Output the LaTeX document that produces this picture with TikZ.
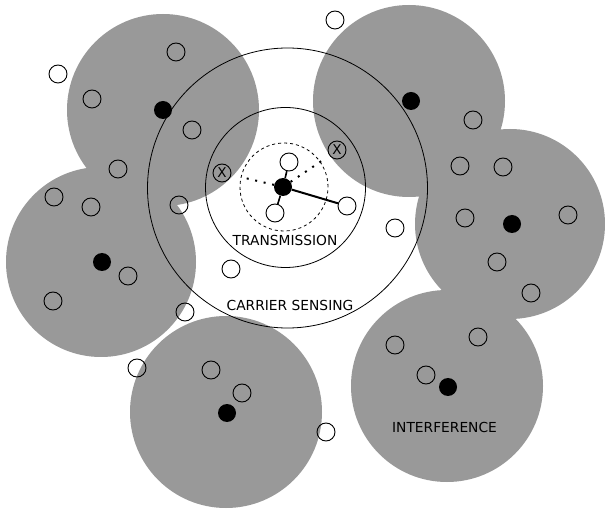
\documentclass[tikz,border=0pt]{standalone}
\usepackage{fontspec}
\setmainfont{DejaVu Sans}
\definecolor{zonegrey}{RGB}{153,153,153}
\begin{document}
\begin{tikzpicture}[x=1pt,y=-1pt,
  zone/.style={fill=zonegrey,draw=none},
  rangeline/.style={line width=0.8pt},
  dashrange/.style={line width=0.8pt,dash pattern=on 3pt off 3pt},
  onode/.style={circle,draw,line width=0.9pt,minimum size=18pt,inner sep=0pt},
  xnode/.style={onode,font=\fontsize{13.5}{13.5}\selectfont},
  bnode/.style={circle,fill=black,minimum size=18pt,inner sep=0pt},
  link/.style={line width=1.6pt},
  strong/.style={line width=2pt},
  dotlink/.style={line width=2pt,dash pattern=on 2pt off 6.7pt},
  label/.style={font=\fontsize{13.8}{16}\selectfont,inner sep=0pt}
]
\useasboundingbox (0,0) rectangle (605,510);
\fill[white] (0,0) rectangle (605,510);
% interference zones
\fill[zone] (163,110) circle[radius=96pt];
\fill[zone] (101,262) circle[radius=95pt];
\fill[zone] (409,101) circle[radius=96pt];
\fill[zone] (510,224) circle[radius=95pt];
\fill[zone] (226,412) circle[radius=96pt];
\fill[zone] (447,386) circle[radius=96pt];
% ranges around the central sender
\draw[rangeline] (287.5,188) circle[radius=140pt];
\draw[rangeline] (285.5,187.5) circle[radius=80pt];
\draw[dashrange] (284,187) circle[radius=44pt];
% senders
\node[bnode] (s0) at (283,187) {};
\node[bnode] (sA) at (163,110) {};
\node[bnode] (sB) at (102,262) {};
\node[bnode] (sC) at (411,101) {};
\node[bnode] (sD) at (512,224) {};
\node[bnode] (sE) at (227,413) {};
\node[bnode] (sF) at (448,387) {};
% other nodes
\node[onode] (w1) at (58,74) {};
\node[onode] (w2) at (335,20) {};
\node[onode] (a1) at (176,52) {};
\node[onode] (a2) at (92,99) {};
\node[onode] (a3) at (192,130) {};
\node[onode] (a4) at (118,169) {};
\node[xnode] (xA) at (222,173) {X};
\node[xnode] (xC) at (337,150) {X};
\node[onode] (b1) at (54,197) {};
\node[onode] (b2) at (91,207) {};
\node[onode] (b3) at (179,205) {};
\node[onode] (b4) at (128,276) {};
\node[onode] (b5) at (53,301) {};
\node[onode] (b6) at (185,312) {};
\node[onode] (t1) at (289,162) {};
\node[onode] (t2) at (275,213) {};
\node[onode] (t3) at (347,206) {};
\node[onode] (w3) at (395,228) {};
\node[onode] (w4) at (231,269) {};
\node[onode] (w5) at (137,368) {};
\node[onode] (w6) at (326,432) {};
\node[onode] (e1) at (211,370) {};
\node[onode] (e2) at (242,393) {};
\node[onode] (c1) at (473,120) {};
\node[onode] (d1) at (460,166) {};
\node[onode] (d2) at (503,167) {};
\node[onode] (d3) at (465,218) {};
\node[onode] (d4) at (568,215) {};
\node[onode] (d5) at (497,262) {};
\node[onode] (d6) at (531,293) {};
\node[onode] (f1) at (395,345) {};
\node[onode] (f2) at (478,337) {};
\node[onode] (f3) at (426,375) {};
% links
\draw[link] (s0) -- (t1);
\draw[link] (s0) -- (t2);
\draw[strong] (s0) -- (t3);
\coordinate (dL) at (245,178);
\coordinate (dR) at (323,160);
\draw[dotlink] (s0) -- (dL);
\draw[dotlink] (s0) -- (dR);
% labels
\node[label] (ltx) at (285,240) {TRANSMISSION};
\node[label] (lcs) at (290,305.5) {CARRIER SENSING};
\node[label] (lif) at (444.5,427) {INTERFERENCE};
\end{tikzpicture}
\end{document}
